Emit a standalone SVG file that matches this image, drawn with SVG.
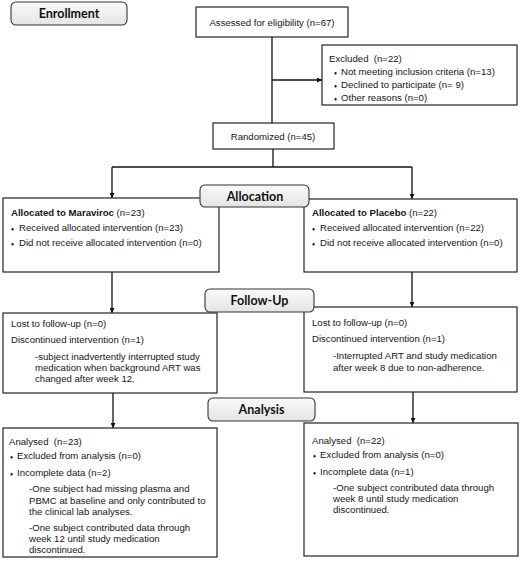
<svg xmlns="http://www.w3.org/2000/svg" width="520" height="562" viewBox="0 0 520 562">
<style>
.box{fill:#fff;stroke:#222;stroke-width:1.2}
.lab{fill:url(#g);stroke:#333;stroke-width:1.1}
.t{font-family:"Liberation Sans",Arial,sans-serif;font-size:9.6px;fill:#151515;white-space:pre}
.b{font-weight:bold}
.h{font-family:Lato,"Liberation Sans",sans-serif;font-size:12.5px;font-weight:bold;fill:#111;text-anchor:middle}
.c{text-anchor:middle}
.bu{font-size:6px}
.ln{fill:none;stroke:#111;stroke-width:1.3}
</style>
<defs>
<linearGradient id="g" x1="0" y1="0" x2="0" y2="1">
<stop offset="0" stop-color="#fafafa"/>
<stop offset="1" stop-color="#e4e4e4"/>
</linearGradient>
<marker id="a" viewBox="0 0 10 10" refX="10" refY="5" markerWidth="5" markerHeight="5" orient="auto" markerUnits="userSpaceOnUse">
<path d="M0,0 L10,5 L0,10 z" fill="#111"/>
</marker>
</defs>
<g id="connectors">
<path class="ln" d="M272,37 V123"/>
<path class="ln" d="M272,80 H322" marker-end="url(#a)"/>
<path class="ln" d="M273,149 V167"/>
<path class="ln" d="M112,167 H412"/>
<path class="ln" d="M112,167 V198" marker-end="url(#a)"/>
<path class="ln" d="M412,167 V199" marker-end="url(#a)"/>
<path class="ln" d="M112,272 V313" marker-end="url(#a)"/>
<path class="ln" d="M412,272 V307" marker-end="url(#a)"/>
<path class="ln" d="M113,393 V428" marker-end="url(#a)"/>
<path class="ln" d="M413,392 V423" marker-end="url(#a)"/>
</g>
<g id="enrollment">
<rect class="lab" x="11" y="2" width="116" height="23" rx="5"/>
<text class="h" x="69" y="18">Enrollment</text>
</g>
<g id="assessed">
<rect class="box" x="196" y="7" width="152" height="30"/>
<text class="t c" x="272" y="26">Assessed for eligibility (n=67)</text>
</g>
<g id="excluded">
<rect class="box" x="322" y="45" width="195" height="60"/>
<text class="t" x="329" y="62" xml:space="preserve">Excluded  (n=22)</text>
<text class="t" x="334" y="75"><tspan class="bu">♦</tspan><tspan x="341">Not meeting inclusion criteria (n=13)</tspan></text>
<text class="t" x="334" y="88"><tspan class="bu">♦</tspan><tspan x="341">Declined to participate (n= 9)</tspan></text>
<text class="t" x="334" y="101"><tspan class="bu">♦</tspan><tspan x="341">Other reasons (n=0)</tspan></text>
</g>
<g id="randomized">
<rect class="box" x="213" y="123" width="121" height="26"/>
<text class="t c" x="273" y="140">Randomized (n=45)</text>
</g>
<g id="maraviroc">
<rect class="box" x="3" y="198" width="216" height="74"/>
<text class="t" x="11" y="216"><tspan class="b">Allocated to Maraviroc</tspan> (n=23)</text>
<text class="t" x="11" y="231"><tspan class="bu">♦</tspan><tspan x="19">Received allocated intervention (n=23)</tspan></text>
<text class="t" x="11" y="246"><tspan class="bu">♦</tspan><tspan x="19">Did not receive allocated intervention (n=0)</tspan></text>
</g>
<g id="placebo">
<rect class="box" x="304" y="199" width="213" height="73"/>
<text class="t" x="312" y="216"><tspan class="b">Allocated to Placebo</tspan> (n=22)</text>
<text class="t" x="312" y="231"><tspan class="bu">♦</tspan><tspan x="320">Received allocated intervention (n=22)</tspan></text>
<text class="t" x="312" y="246"><tspan class="bu">♦</tspan><tspan x="320">Did not receive allocated intervention (n=0)</tspan></text>
</g>
<g id="allocation">
<rect class="lab" x="200" y="185" width="109" height="22" rx="5"/>
<text class="h" x="255" y="200.5">Allocation</text>
</g>
<g id="followup-left">
<rect class="box" x="3" y="313" width="214" height="80"/>
<text class="t" x="11" y="327">Lost to follow-up (n=0)</text>
<text class="t" x="11" y="343">Discontinued intervention (n=1)</text>
<text class="t" x="35" y="360">-subject inadvertently interrupted study</text>
<text class="t" x="35" y="371">medication when background ART was</text>
<text class="t" x="35" y="382">changed after week 12.</text>
</g>
<g id="followup-right">
<rect class="box" x="304" y="307" width="213" height="85"/>
<text class="t" x="312" y="326">Lost to follow-up (n=0)</text>
<text class="t" x="312" y="342">Discontinued intervention (n=1)</text>
<text class="t" x="333" y="359">-Interrupted ART and study medication</text>
<text class="t" x="333" y="371">after week 8 due to non-adherence.</text>
</g>
<g id="followup">
<rect class="lab" x="205" y="289" width="109" height="23" rx="5"/>
<text class="h" x="259.5" y="305">Follow-Up</text>
</g>
<g id="analysis-left">
<rect class="box" x="3" y="428" width="214" height="129"/>
<text class="t" x="9" y="445" xml:space="preserve">Analysed  (n=23)</text>
<text class="t" x="10" y="459"><tspan class="bu">♦</tspan><tspan x="17">Excluded from analysis (n=0)</tspan></text>
<text class="t" x="10" y="476"><tspan class="bu">♦</tspan><tspan x="17">Incomplete data (n=2)</tspan></text>
<text class="t" x="29" y="492">-One subject had missing plasma and</text>
<text class="t" x="29" y="504">PBMC at baseline and only contributed to</text>
<text class="t" x="29" y="515">the clinical lab analyses.</text>
<text class="t" x="29" y="531">-One subject contributed data through</text>
<text class="t" x="29" y="542">week 12 until study medication</text>
<text class="t" x="29" y="553">discontinued.</text>
</g>
<g id="analysis-right">
<rect class="box" x="304" y="423" width="214" height="133"/>
<text class="t" x="312" y="444" xml:space="preserve">Analysed  (n=22)</text>
<text class="t" x="313" y="458"><tspan class="bu">♦</tspan><tspan x="320">Excluded from analysis (n=0)</tspan></text>
<text class="t" x="313" y="475"><tspan class="bu">♦</tspan><tspan x="320">Incomplete data (n=1)</tspan></text>
<text class="t" x="333" y="491">-One subject contributed data through</text>
<text class="t" x="333" y="502">week 8 until study medication</text>
<text class="t" x="333" y="513">discontinued.</text>
</g>
<g id="analysis">
<rect class="lab" x="208" y="398" width="107" height="23" rx="5"/>
<text class="h" x="261.5" y="414">Analysis</text>
</g>
</svg>
